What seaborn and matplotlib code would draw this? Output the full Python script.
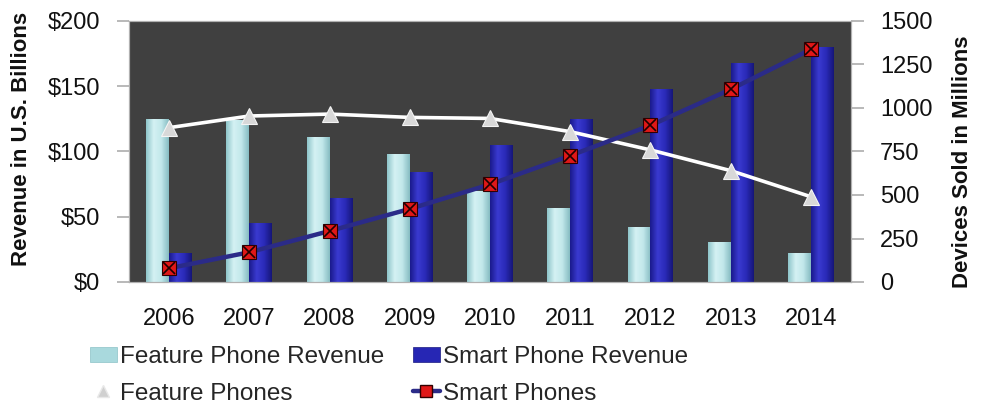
import numpy as np
import pandas as pd
import matplotlib
matplotlib.use("Agg")
import matplotlib.pyplot as plt
from matplotlib.lines import Line2D
from matplotlib.patches import Patch
from matplotlib.colors import LinearSegmentedColormap
from matplotlib.ticker import FixedLocator, FuncFormatter
import seaborn as sns

# Revenue (US$ billions) and units sold (millions) per year
years = ["2006", "2007", "2008", "2009", "2010", "2011", "2012", "2013", "2014"]
feature_revenue = [125, 124, 111, 98, 70, 57, 42, 31, 22]
smart_revenue = [22, 45, 64, 84, 105, 125, 148, 168, 180]
feature_units = [887, 954, 965, 946, 940, 864, 759, 640, 490]
smart_units = [79, 171, 293, 420, 561, 726, 900, 1107, 1337]

rev_labels = ["Feature Phone Revenue", "Smart Phone Revenue"]
unit_labels = ["Feature Phones", "Smart Phones"]

sns.set_theme(style="white")
plt.rcParams["font.family"] = ["Liberation Sans", "DejaVu Sans"]

rev_df = pd.DataFrame({
    "year": years * 2,
    "revenue": feature_revenue + smart_revenue,
    "series": [rev_labels[0]] * len(years) + [rev_labels[1]] * len(years),
})

fig = plt.figure(figsize=(9.82, 4.07), dpi=100)
ax = fig.add_axes([129 / 982, 1 - 282 / 407, (851 - 129) / 982, (282 - 21) / 407])
ax.set_facecolor("#404040")

bar_colors = ["#b9e3e7", "#2626b4"]
sns.barplot(data=rev_df, x="year", y="revenue", hue="series", ax=ax,
            palette=bar_colors, width=0.57, dodge=True, saturation=1,
            errorbar=None, legend=False, linewidth=0)

# Soft cylindrical shading on each bar
cmaps = [
    LinearSegmentedColormap.from_list("fp", ["#8fc6cb", "#d4f1f3", "#c2e8eb", "#86bcc2"]),
    LinearSegmentedColormap.from_list("sp", ["#1a1a8c", "#3a3ad0", "#2a2ab8", "#161678"]),
]
grad = np.linspace(0, 1, 64).reshape(1, -1)
for container, cmap in zip(ax.containers, cmaps):
    for patch in container.patches:
        x0, y0 = patch.get_x(), patch.get_y()
        w, h = patch.get_width(), patch.get_height()
        im = ax.imshow(grad, cmap=cmap, aspect="auto",
                       extent=[x0, x0 + w, y0, y0 + h], zorder=patch.get_zorder() + 0.1)
        im.set_clip_path(patch)

ax.set_xlim(-0.5, len(years) - 0.5)
ax.set_ylim(0, 200)
ax.set_xlabel("")
ax.set_ylabel("")
ax.yaxis.set_major_locator(FixedLocator([0, 50, 100, 150, 200]))
ax.yaxis.set_major_formatter(FuncFormatter(lambda v, p: f"${v:.0f}"))
ax.set_xticks(range(len(years)))
ax.set_xticklabels(years)
ax.set_xticks(np.arange(-0.5, len(years), 1.0), minor=True)
ax.tick_params(axis="x", which="major", length=0, pad=19, labelsize=17, labelcolor="#111111")
ax.tick_params(axis="x", which="minor", length=14, direction="inout", color="#b0b0b0", width=1)
ax.tick_params(axis="y", which="major", left=True, length=9, direction="out", color="#b0b0b0",
               pad=12, labelsize=17, labelcolor="#111111")

ax2 = ax.twinx()
sns.lineplot(x=list(range(len(years))), y=feature_units, ax=ax2, color="white",
             linewidth=2.6, marker="^", markersize=12, markerfacecolor="#d8d8d8",
             markeredgecolor="#f4f4f4", markeredgewidth=0.8)
sns.lineplot(x=list(range(len(years))), y=smart_units, ax=ax2, color="#2b2b88",
             linewidth=3.2, marker="s", markersize=10.5, markerfacecolor="#e01818",
             markeredgecolor="#300000", markeredgewidth=0.8)
ax2.plot(range(len(years)), smart_units, linestyle="none", marker="x", markersize=8.5,
         markeredgecolor="#200000", markeredgewidth=1.2)
ax2.set_ylim(0, 1500)
ax2.set_xlim(-0.5, len(years) - 0.5)
ax2.yaxis.set_major_locator(FixedLocator([0, 250, 500, 750, 1000, 1250, 1500]))
ax2.tick_params(axis="y", which="major", right=True, length=9, direction="out", color="#b0b0b0",
                pad=12, labelsize=17, labelcolor="#111111")
ax2.set_ylabel("")

for a in (ax, ax2):
    for s in a.spines.values():
        s.set_color("#b0b0b0")
        s.set_linewidth(0.8)

fig.text(22 / 982, 1 - 139 / 407, "Revenue in U.S. Billions", rotation=90, ha="center",
         va="center", fontsize=16, fontweight="bold", color="#111111")
fig.text(962 / 982, 1 - 162 / 407, "Devices Sold in Millions", rotation=90, ha="center",
         va="center", fontsize=16, fontweight="bold", color="#111111")

# Legend entries in column-major order: revenues on top row, unit lines below
handles = [
    Patch(facecolor="#a9d9dd", edgecolor="#8cc2c7", linewidth=0.5),
    Line2D([], [], color="white", linewidth=2.6, marker="^", markersize=9,
           markerfacecolor="#d0d0d0", markeredgecolor="#e8e8e8"),
    Patch(facecolor="#2626b4", edgecolor="#1a1a80", linewidth=0.5),
    Line2D([], [], color="#2b2b88", linewidth=3.2, marker="s", markersize=9,
           markerfacecolor="#e01818", markeredgecolor="#300000"),
]
labels = [rev_labels[0], unit_labels[0], rev_labels[1], unit_labels[1]]
fig.legend(handles, labels, loc="upper left", bbox_to_anchor=(90 / 982, 1 - 346 / 407),
           ncol=2, frameon=False, fontsize=17.5, handlelength=1.1, handleheight=0.6,
           handletextpad=0.12, columnspacing=1.2, labelspacing=0.6, borderaxespad=0,
           borderpad=0)

fig.savefig("out.png", dpi=100)
